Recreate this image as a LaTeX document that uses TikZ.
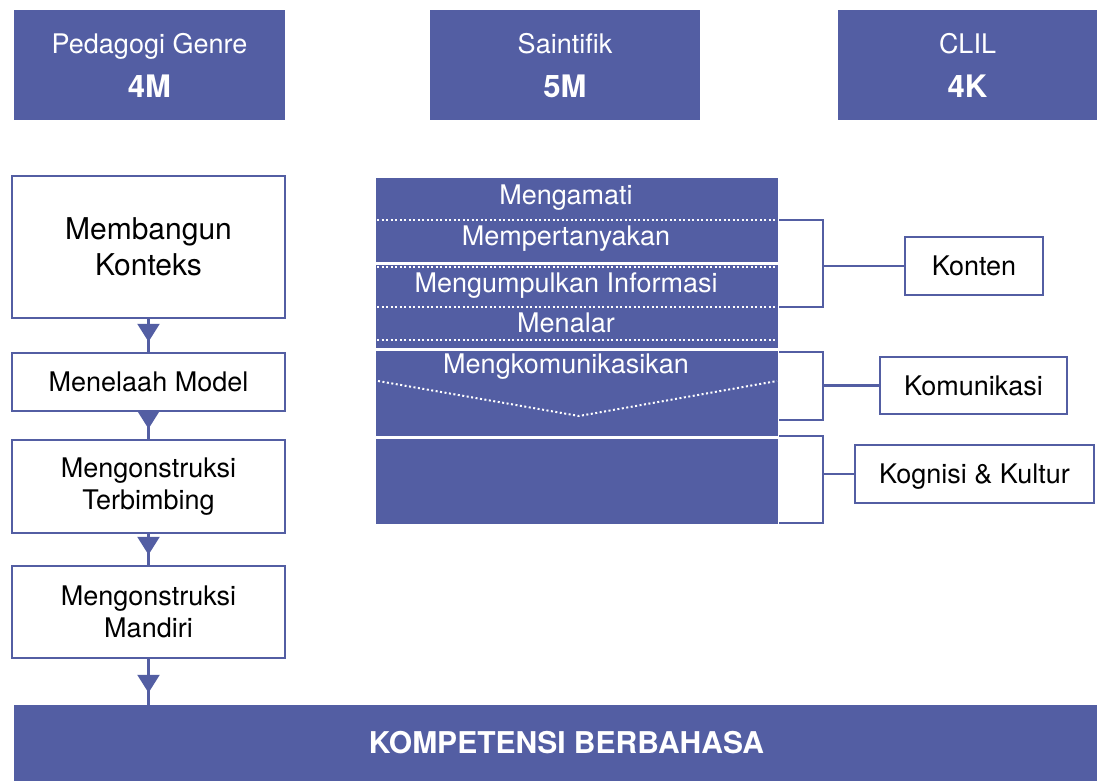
\documentclass[tikz,border=0pt]{standalone}
\usepackage{fontspec}
\setmainfont{TeX Gyre Heros}
\usetikzlibrary{arrows.meta}
\definecolor{navy}{HTML}{535EA3}
\begin{document}
\begin{tikzpicture}[x=1pt,y=-1pt,
  head/.style={fill=navy, text=white, align=center, inner sep=0pt,
               font=\fontsize{27}{44}\selectfont},
  stagebox/.style={draw=navy, line width=2.4pt, fill=white, align=center,
                   inner sep=0pt, font=\fontsize{27}{32}\selectfont},
  bigstage/.style={stagebox, font=\fontsize{30}{36}\selectfont},
  block/.style={fill=navy, inner sep=0pt, minimum width=402pt},
  steptext/.style={text=white, inner sep=0pt, anchor=base,
                   font=\fontsize{27}{30}\selectfont},
  aspect/.style={draw=navy, line width=2.4pt, fill=white, inner sep=0pt,
                 text depth=0pt, font=\fontsize{27}{30}\selectfont},
  conn/.style={draw=navy, line width=2.4pt},
  tip/.style={conn, -{Triangle[width=22pt,length=18pt]}},
  sep/.style={draw=white, line width=2pt, dash pattern=on 2pt off 2.5pt},
]
\useasboundingbox (0,0) rectangle (1097,781);

% approach headers
\node[head, minimum width=271pt, minimum height=110pt] (tg) at (149.5,65.5)
  {Pedagogi Genre\\{\fontsize{31}{44}\selectfont\bfseries 4M}};
\node[head, minimum width=270pt, minimum height=110pt] (ts) at (565,65.5)
  {Saintifik\\{\fontsize{31}{44}\selectfont\bfseries 5M}};
\node[head, minimum width=259pt, minimum height=110pt] (tc) at (967.5,65.5)
  {CLIL\\{\fontsize{31}{44}\selectfont\bfseries 4K}};

% genre pedagogy stages
\node[bigstage, minimum width=273pt, minimum height=142pt] (mk) at (148.5,247)
  {Membangun\\Konteks};
\node[stagebox, minimum width=273pt, minimum height=58pt] (mm) at (148.5,382)
  {Menelaah Model};
\node[stagebox, minimum width=273pt, minimum height=93pt] (mt) at (148.5,486.5)
  {Mengonstruksi\\Terbimbing};
\node[stagebox, minimum width=273pt, minimum height=92pt] (md) at (148.5,612)
  {Mengonstruksi\\Mandiri};

% outcome bar
\node[fill=navy, text=white, inner sep=0pt, minimum width=1083pt, minimum height=76pt,
      font=\fontsize{30}{34}\selectfont\bfseries] (kb) at (555.5,743)
  {\hspace*{22pt}KOMPETENSI BERBAHASA};

% stage arrows: line runs box to box, head stops short of the next box
\foreach \a/\b in {mk/mm, mm/mt, mt/md}{
  \draw[conn] (\a.south) -- (\b.north);
  \draw[tip, shorten >=10pt] (\a.south) -- (\b.north);
}
\draw[conn] (md.south) -- (md.south |- kb.north);
\draw[tip, shorten >=12pt] (md.south) -- (md.south |- kb.north);

% scientific approach blocks
\node[block, minimum height=84pt] (blkA) at (577,220) {};
\node[block, minimum height=83pt] (blkB) at (577,306.5) {};
\node[block, minimum height=85pt] (blkC) at (577,393.5) {};
\node[block, minimum height=85pt] (blkD) at (577,481.5) {};

\draw[sep] (377,220) -- (777,220);
\draw[sep] (377,267) -- (777,267);
\draw[sep] (377,307) -- (777,307);
\draw[sep] (377,340) -- (777,340);
\draw[sep] (378,381) -- (579,416) -- (777,381);

\node[steptext] (s1) at (566,204) {Mengamati};
\node[steptext] (s2) at (566,245) {Mempertanyakan};
\node[steptext] (s3) at (566,292) {Mengumpulkan Informasi};
\node[steptext] (s4) at (566,332) {Menalar};
\node[steptext] (s5) at (566,373) {Mengkomunikasikan};

% CLIL aspects
\node[aspect, minimum width=138pt, minimum height=58pt] (konten) at (974,266) {Konten};
\node[aspect, minimum width=187pt, minimum height=57pt] (komun) at (973.5,385.5) {Komunikasi};
\node[aspect, minimum width=239pt, minimum height=58pt] (kogni) at (974.5,474) {Kognisi \& Kultur};

% brackets
\coordinate (b1t) at (779,220); \coordinate (b1m) at (823,266); \coordinate (b1b) at (779,307);
\coordinate (b2t) at (779,352); \coordinate (b2m) at (823,385.5); \coordinate (b2b) at (779,420);
\coordinate (b3t) at (779,436); \coordinate (b3m) at (823,474); \coordinate (b3b) at (779,523);

\draw[conn] (b1t) -| (b1m) |- (b1b);
\draw[conn] (b1m) -- (konten.west);
\draw[conn] (b2t) -| (b2m) |- (b2b);
\draw[conn] (b2m) -- (komun.west);
\draw[conn] (b3t) -| (b3m) |- (b3b);
\draw[conn] (b3m) -- (kogni.west);
\end{tikzpicture}
\end{document}
